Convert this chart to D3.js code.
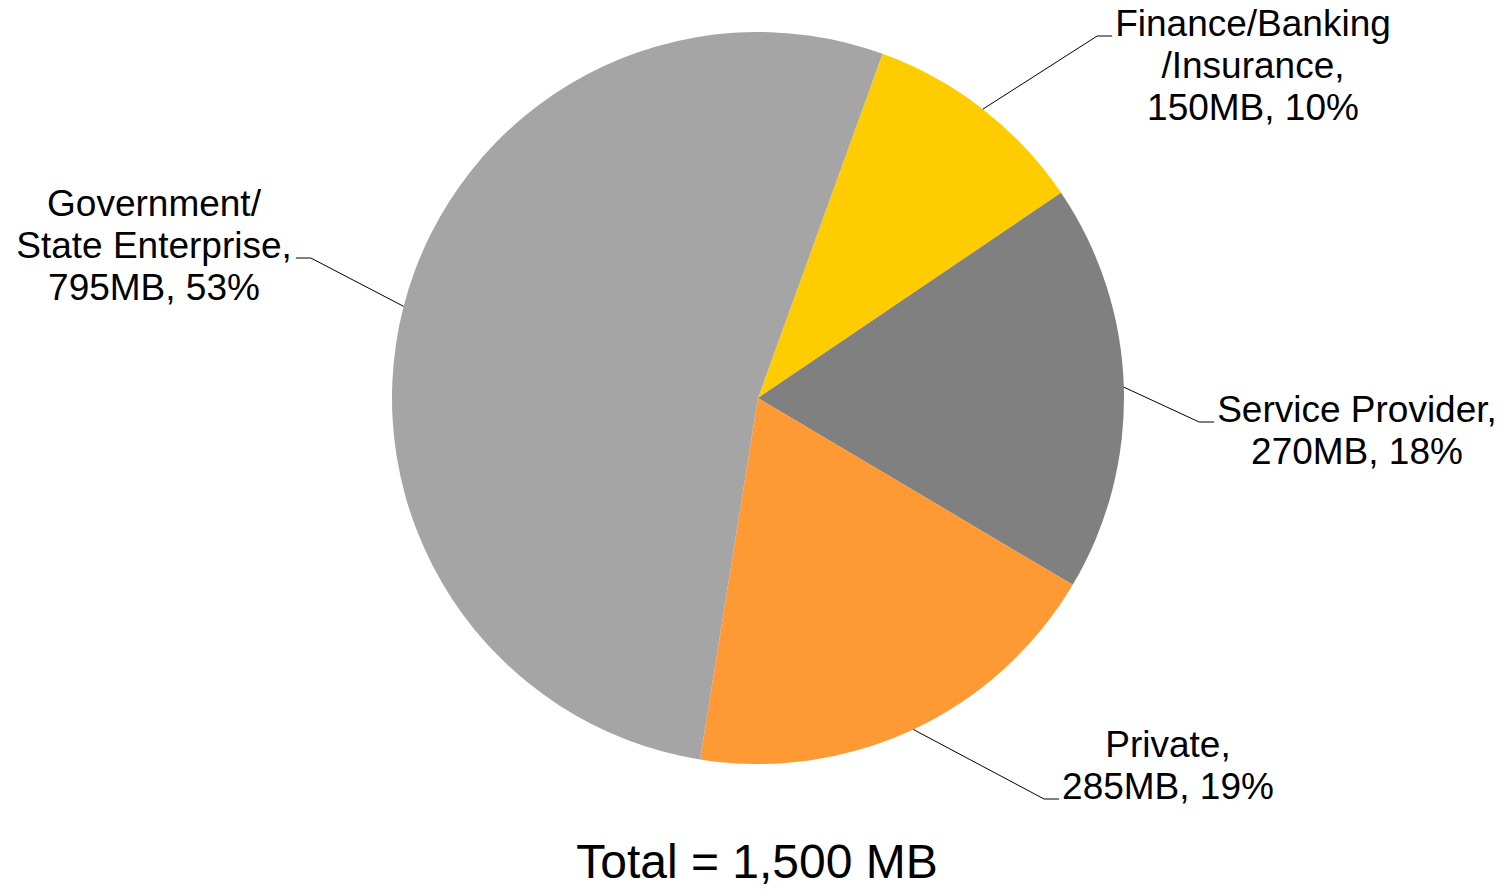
<!DOCTYPE html>
<html>
<head>
<meta charset="utf-8">
<script src="https://cdn.jsdelivr.net/npm/d3@7"></script>
<style>
  body { margin: 0; background: #fff; }
  text { font-family: 'Liberation Sans', Arial, sans-serif; fill: #000; }
</style>
</head>
<body>
<div id="chart"></div>
<script>
// data
const categories = ['Finance/Banking\n/Insurance', 'Service Provider', 'Private', 'Government/\nState Enterprise']
const values = [150, 270, 285, 795]
const colors = ['#ffcc00', '#808080', '#ff9933', '#a5a5a5']
const totalLabel = 'Total = 1,500 MB'

// layout
const width = 1506
const height = 889
const cx = 758
const cy = 398
const radius = 366
const startDeg = 19.9
const fontSize = 37
const lineH = 42

// label blocks: text centre x, baseline of the line the leader points at, side of leader
const labelLayout = [
  { x: 1253, y: 36, line: 0, side: 'left' },
  { x: 1357, y: 422, line: 0, side: 'left' },
  { x: 1168, y: 799, line: 1, side: 'left' },
  { x: 154, y: 258, line: 1, side: 'right' }
]

const total = d3.sum(values)
const data = categories.map((c, i) => ({ name: c, value: values[i], color: colors[i] }))

const svg = d3.select('#chart')
  .append('svg')
  .attr('width', width)
  .attr('height', height)

const pie = d3.pie()
  .value(d => d.value)
  .sort(null)
  .startAngle(startDeg * Math.PI / 180)
  .endAngle((startDeg + 360) * Math.PI / 180)

const arc = d3.arc().innerRadius(0).outerRadius(radius)

const g = svg.append('g').attr('transform', `translate(${cx}, ${cy})`)

const arcs = pie(data)

g.selectAll('path.slice')
  .data(arcs)
  .enter()
  .append('path')
  .attr('class', 'slice')
  .attr('d', arc)
  .attr('fill', d => d.data.color)

// labels
arcs.forEach(function(d, i) {
  const lay = labelLayout[i]
  const pct = Math.round(d.data.value / total * 100)
  const lines = d.data.name.split('\n')
  lines[lines.length - 1] += ','
  lines.push(`${d.data.value}MB, ${pct}%`)

  const firstBase = lay.y - lay.line * lineH
  const text = svg.append('text')
    .attr('text-anchor', 'middle')
    .style('font-size', fontSize + 'px')
  lines.forEach(function(l, j) {
    text.append('tspan')
      .attr('x', lay.x)
      .attr('y', firstBase + j * lineH)
      .text(l)
  })
  // width of the line the leader attaches to
  const tw = text.selectAll('tspan').nodes()[lay.line].getComputedTextLength()

  // leader line: from the slice edge at mid-angle to the label
  const mid = (d.startAngle + d.endAngle) / 2
  const px = cx + radius * Math.sin(mid)
  const py = cy - radius * Math.cos(mid)
  const ly = lay.y
  let ex, hx
  if (lay.side === 'left') {
    hx = lay.x - tw / 2 - 3
    ex = hx - 15
  } else {
    hx = lay.x + tw / 2 + 4
    ex = hx + 15
  }
  svg.append('path')
    .attr('d', `M${px},${py}L${ex},${ly}L${hx},${ly}`)
    .attr('fill', 'none')
    .attr('stroke', '#000')
    .attr('stroke-width', 1)
})

svg.append('text')
  .attr('x', 757)
  .attr('y', 878)
  .attr('text-anchor', 'middle')
  .style('font-size', '48px')
  .text(totalLabel)
</script>
</body>
</html>
